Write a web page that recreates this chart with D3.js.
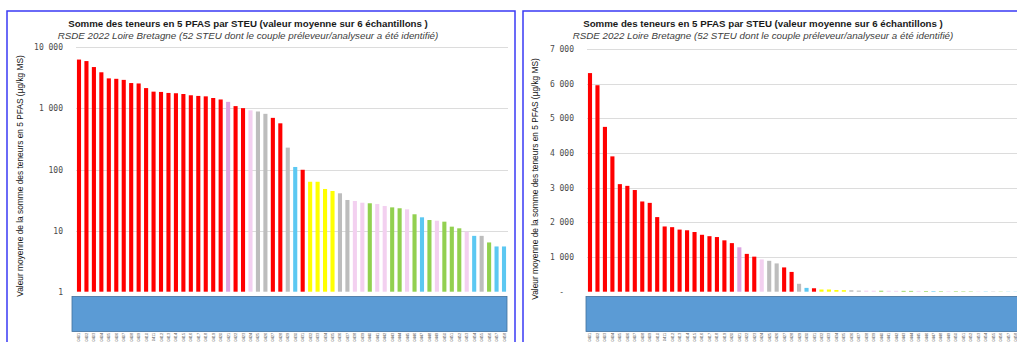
<!DOCTYPE html>
<html><head><meta charset="utf-8">
<script src="https://cdnjs.cloudflare.com/ajax/libs/d3/7.8.5/d3.min.js"></script>
<style>
html,body{margin:0;padding:0;background:#fff;}
svg{display:block;font-family:"Liberation Sans",Arial,sans-serif;}
</style></head><body>
<svg id="c" width="1017" height="342"></svg>
<script>
const title = "Somme des teneurs en 5 PFAS par STEU (valeur moyenne sur 6 échantillons )";
const subtitle = "RSDE 2022 Loire Bretagne (52 STEU dont le couple préleveur/analyseur a été identifié)";
const yTitle = "Valeur moyenne de la somme des teneurs en 5 PFAS (µg/kg MS)";

const categories = ["0401","0402","0403","0404","0405","0406","0407","0408","0409","0410",
  "0411","0412","0413","0414","0415","0416","0417","0418","0419","0420",
  "0421","0422","0423","0424","0425","0426","0427","0428","0429","0430",
  "0431","0432","0433","0434","0435","0436","0437","0438","0439","0440",
  "0441","0442","0443","0444","0445","0446","0447","0448","0449","0450",
  "0451","0452","0453","0454","0455","0456","0457","0458"];
const values = [6300,5950,4750,3900,3100,3050,2930,2600,2560,2150,
  1880,1860,1790,1770,1720,1640,1600,1575,1480,1400,
  1280,1090,1010,930,890,815,700,570,228,110,
  99,63,63,48,44.5,40.8,31.7,30.5,28.6,28,
  27.2,25.3,24,23.2,22.3,18.5,16.5,14.9,14.5,14,
  11.6,10.9,9.6,8.2,8.2,6.4,5.5,5.5];
const groups = ["R","R","R","R","R","R","R","R","R","R",
  "R","R","R","R","R","R","R","R","R","R",
  "V","R","R","P","G","G","R","R","G","B",
  "R","Y","Y","Y","Y","G","G","P","P","N",
  "P","P","N","N","P","N","B","N","P","N",
  "N","N","P","B","G","N","B","B"];
const groupKeys = ["R","V","P","G","B","Y","N"];
const groupColors = ["#ff0000","#dca3e0","#f3d0f0","#bdbdbd","#5cc8f2","#ffff00","#92d050"];

const logTicks = [1,10,100,1000,10000];
const linTicks = [0,1000,2000,3000,4000,5000,6000,7000];

const svg = d3.select("#c");
const color = d3.scaleOrdinal(groupKeys, groupColors);
const loc = d3.formatLocale({decimal:",", thousands:" ", grouping:[3], currency:["",""]});
const fmt = loc.format(",d");

function fitText(sel, target, base){
  const n = sel.node();
  const len = n.getComputedTextLength();
  sel.attr("font-size", base*target/len);
}

function panel(cfg){
  const g = svg.append("g");
  g.append("rect").attr("x",cfg.px).attr("y",11).attr("width",cfg.pw).attr("height",400)
    .attr("fill","none").attr("stroke","#3a3af5").attr("stroke-width",1.5);
  const t = g.append("text").attr("x",cfg.tcx).attr("y",27).attr("text-anchor","middle")
    .attr("font-weight","bold").attr("fill","#1a1a1a").attr("font-size",9).text(title);
  fitText(t, 360, 9);
  const st = g.append("text").attr("x",cfg.tcx).attr("y",38.5).attr("text-anchor","middle")
    .attr("font-style","italic").attr("fill","#404040").attr("font-size",9).text(subtitle);
  fitText(st, 381, 9);

  const x = d3.scaleBand().domain(categories).range([cfg.x0, cfg.x1]).paddingInner(0.45).paddingOuter(0.22);
  const y = cfg.y;

  g.append("g").selectAll("line").data(cfg.ticks.filter(d=>d!==cfg.ticks[0])).join("line")
    .attr("x1",cfg.gx0).attr("x2",cfg.gx1).attr("y1",d=>Math.round(y(d))+0.5).attr("y2",d=>Math.round(y(d))+0.5)
    .attr("stroke","#dcdcdc").attr("stroke-width",1);

  const ax = d3.axisLeft(y).tickValues(cfg.ticks).tickSize(0).tickPadding(0)
    .tickFormat(cfg.tickFmt);
  const ag = g.append("g").attr("transform",`translate(${cfg.axX},0)`).call(ax);
  ag.select(".domain").remove();
  ag.selectAll("text").attr("font-size",8).attr("fill","#4a4a4a")
    .attr("font-family","'DejaVu Sans Mono','Liberation Mono',monospace").attr("dy","0.32em");
  if(cfg.zeroDash){
    ag.selectAll(".tick").filter(d=>d===0).select("text").attr("dx",-10);
  }

  const yt = g.append("text").attr("transform",`translate(${cfg.ytx},${cfg.yty}) rotate(-90)`)
    .attr("text-anchor","middle").attr("fill","#111").attr("font-size",8).text(yTitle);
  fitText(yt, 242, 8);

  g.append("g").selectAll("rect").data(categories).join("rect")
    .attr("x",d=>x(d)).attr("width",x.bandwidth())
    .attr("y",(d,i)=>y(values[i])).attr("height",(d,i)=>Math.max(0,y(cfg.base)-y(values[i])))
    .attr("fill",(d,i)=>color(groups[i]));

  g.append("g").selectAll("text").data(categories).join("text")
    .attr("transform",d=>`translate(${x(d)+x.bandwidth()/2+1.5},332.8) rotate(-90)`)
    .attr("text-anchor","end").attr("font-size",3.9).attr("fill","#595959").text(d=>d);

  g.append("rect").attr("x",cfg.bx0).attr("y",296.5).attr("width",cfg.bx1-cfg.bx0).attr("height",35)
    .attr("fill","#5b9bd5").attr("stroke","#41719c").attr("stroke-width",0.8);
}

panel({
  px:7, pw:508, tcx:248, x0:75.3, x1:507.7, gx0:76, gx1:508,
  y: d3.scaleLog().domain([1,10000]).range([291.7,47.3]), base:1,
  ticks: logTicks, tickFmt: d=>fmt(d), axX:63, ytx:23, yty:176,
  bx0:72, bx1:507
});
panel({
  px:523, pw:600, tcx:763, x0:586.3, x1:1019.3, gx0:587, gx1:1017,
  y: d3.scaleLinear().domain([0,7000]).range([291.7,48.8]), base:0,
  ticks: linTicks, tickFmt: d=>d===0?"-":fmt(d), axX:574, ytx:538, yty:179, zeroDash:true,
  bx0:586, bx1:1020
});
</script>
</body></html>
